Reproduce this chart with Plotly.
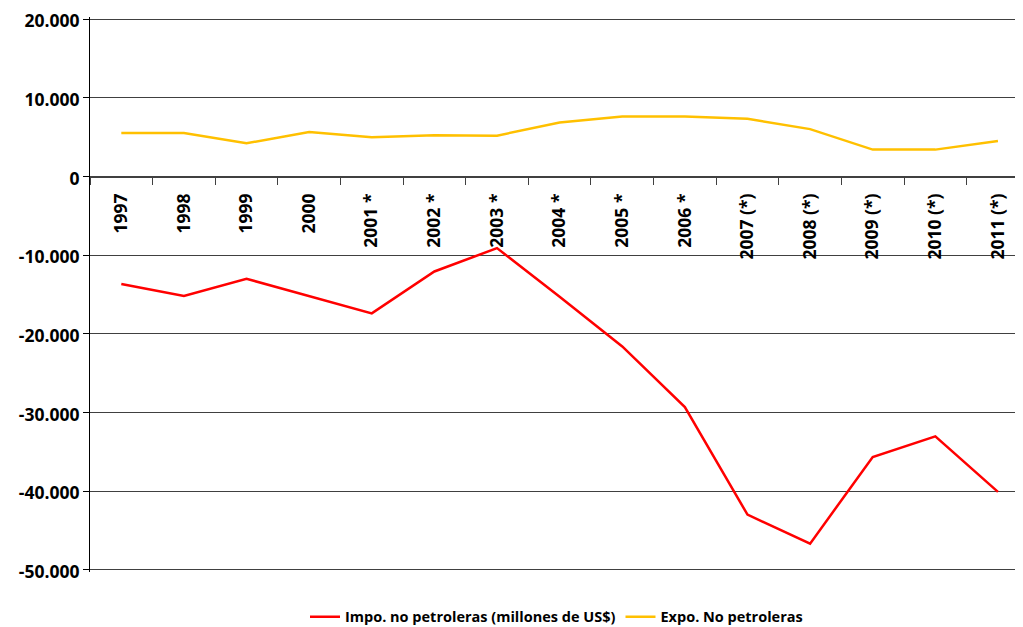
import plotly.graph_objects as go

years = ["1997", "1998", "1999", "2000", "2001 *", "2002 *", "2003 *", "2004 *",
         "2005 *", "2006 *", "2007 (*)", "2008 (*)", "2009 (*)", "2010 (*)", "2011 (*)"]
impo = [-13670, -15200, -13000, -15200, -17400, -12070, -9100, -15300,
        -21610, -29320, -43000, -46690, -35670, -33050, -40110]
expo = [5550, 5550, 4240, 5680, 5000, 5260, 5210, 6880,
        7650, 7650, 7350, 6040, 3430, 3430, 4540]
ytick_vals = [20000, 10000, 0, -10000, -20000, -30000, -40000, -50000]
ytick_text = ["20.000", "10.000", "0", "-10.000", "-20.000", "-30.000", "-40.000", "-50.000"]

FONT = "Open Sans"
TICK_SIZE = 17.5

fig = go.Figure()
fig.add_trace(go.Scatter(x=years, y=impo, mode="lines", name="Impo. no petroleras (millones de US$)",
                         line=dict(color="#FF0000", width=2.5)))
fig.add_trace(go.Scatter(x=years, y=expo, mode="lines", name="Expo. No petroleras",
                         line=dict(color="#FFC000", width=2.5)))

# the page adds an 8px body margin, so the figure is sized/offset to compensate
fig.update_layout(
    width=1015, height=619,
    margin=dict(l=82, r=0, t=9, b=55, autoexpand=False),
    paper_bgcolor="white", plot_bgcolor="white",
    font=dict(family=FONT, size=15, color="black", weight="bold"),
    showlegend=True,
    legend=dict(orientation="h", x=0.5, xanchor="center", y=-0.0806, yanchor="middle",
                font=dict(family=FONT, size=14.5, color="black", weight="bold")),
    xaxis=dict(type="category", anchor="free", position=50300/70600, range=[-0.5, 14.4],
               automargin=False,
               showline=True, linecolor="#404040", linewidth=1,
               ticks="outside", tickson="boundaries", ticklen=7, tickcolor="#404040",
               tickangle=-90, showgrid=False, zeroline=False, ticklabelstandoff=9,
               tickfont=dict(family=FONT, size=TICK_SIZE, color="black", weight="bold")),
    yaxis=dict(range=[-50300, 20300], tickvals=ytick_vals, ticktext=ytick_text,
               automargin=False, ticklabeloverflow="allow", ticklabelshift=2,
               showgrid=True, gridcolor="#404040", gridwidth=1, zeroline=False,
               showline=True, linecolor="black", linewidth=1,
               ticks="outside", ticklen=6, tickcolor="black",
               tickfont=dict(family=FONT, size=TICK_SIZE, color="black", weight="bold")),
)

fig.write_html("out.html")
